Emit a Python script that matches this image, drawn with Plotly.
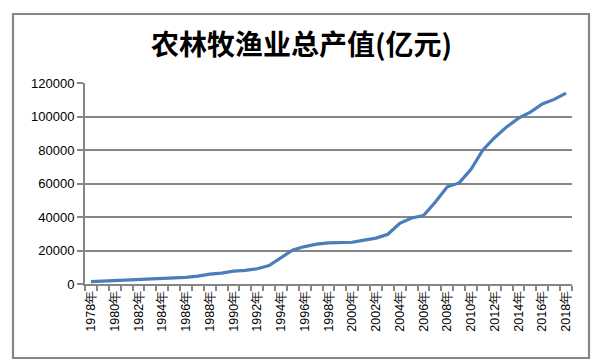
import plotly.graph_objects as go

years = list(range(1978, 2019))
output = [1397, 1698, 1923, 2181, 2483, 2750, 3214, 3619, 4013, 4676,
          5865, 6535, 7662, 8157, 9085, 10996, 15751, 20341, 22354, 23788,
          24542, 24519, 24916, 26180, 27391, 29692, 36239, 39451, 40811, 48893,
          58002, 60361, 68500, 80000, 87500, 93800, 99000, 102600, 107500, 110200,
          114000]
tick_years = list(range(1978, 2019, 2))
tick_text = [f"{y}年" for y in tick_years]
y_ticks = list(range(0, 120001, 20000))
y_tick_text = [str(v) for v in y_ticks]
title = "农林牧渔业总产值(亿元)"

gray = "#868686"
W, H = 603, 362
L, R, T, B = 85, 31, 83, 78
pw, ph = W - L - R, H - T - B

fig = go.Figure()
fig.add_trace(go.Scatter(x=years, y=output, mode="lines",
                         line=dict(color="rgb(74,126,187)", width=3.2),
                         hoverinfo="x+y"))

fig.update_layout(
    width=W, height=H,
    margin=dict(l=L, r=R, t=T, b=B, pad=0),
    paper_bgcolor="white", plot_bgcolor="white",
    showlegend=False,
    title=dict(text="<b>" + title + "</b>", x=0.5, xref="container", xanchor="center",
               y=(H - 45) / H, yref="container", yanchor="middle",
               font=dict(family="Noto Sans CJK SC", size=28, color="black")),
    font=dict(family="Liberation Sans", size=13, color="black"),
)
fig.update_xaxes(
    range=[1977.5, 2018.5], tickmode="array", tickvals=tick_years, ticktext=tick_text,
    tickangle=-90, ticks="", showgrid=False, zeroline=False, automargin=False,
    showline=True, linecolor=gray, linewidth=1.8,
    tickfont=dict(family="Liberation Sans", size=12.5, color="black"),
    minor=dict(tickmode="array", tickvals=[y - 0.5 for y in years] + [2018.5],
               ticks="outside", ticklen=5, tickcolor=gray, tickwidth=1.5, showgrid=False),
)
fig.update_yaxes(
    range=[0, 120000], tickmode="array", tickvals=y_ticks, ticktext=y_tick_text,
    ticks="outside", ticklen=6, tickcolor=gray, tickwidth=1.5, automargin=False,
    showgrid=True, gridcolor=gray, gridwidth=1.6, zeroline=False,
    showline=True, linecolor=gray, linewidth=1.8,
    tickfont=dict(family="Liberation Sans", size=13, color="black"),
)
# outer chart border
fig.add_shape(type="rect", xref="paper", yref="paper",
              x0=(13 - L) / pw, x1=(589 - L) / pw,
              y0=(H - B - 358) / ph, y1=(H - B - 14) / ph,
              line=dict(color=gray, width=2.2), fillcolor="rgba(0,0,0,0)", layer="below")

fig.write_html("out.html", config={"displayModeBar": False},
               post_script="document.body.style.margin='0';document.body.style.overflow='hidden';")
